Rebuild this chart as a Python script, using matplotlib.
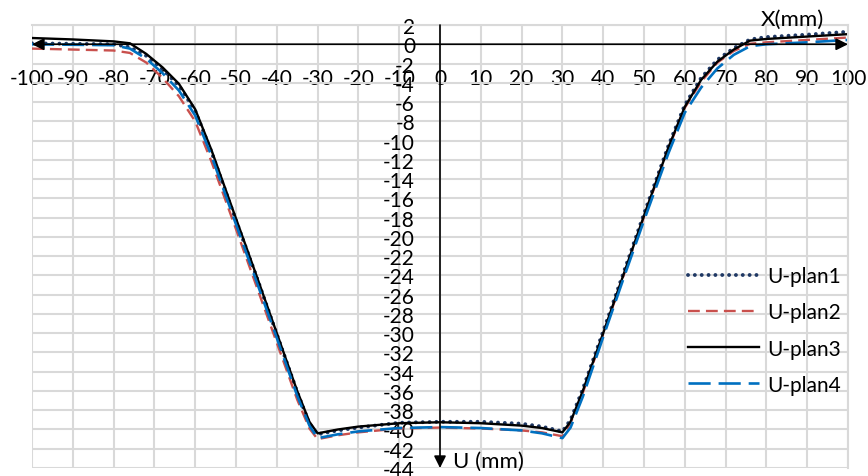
import matplotlib
matplotlib.use("Agg")
import matplotlib.pyplot as plt

plt.rcParams['font.family'] = ['Lato', 'DejaVu Sans']

# displacement along X (mm)
x_mm = [-100, -90, -80, -76, -72, -68, -64, -60, -56, -50, -45, -40, -35, -32, -30,
        -25, -20, -10, 0, 10, 20, 25, 30, 32, 35, 40, 45, 50, 56, 60, 64, 68, 72,
        76, 80, 90, 100]

u_plan1 = [0.1, 0.05, 0.0, -0.3, -1.2, -2.6, -4.3, -6.9, -11.2, -18.3, -24.1, -30.1,
           -36.1, -39.4, -40.5, -40.1, -39.8, -39.3, -39.2, -39.2, -39.4, -39.7, -40.2,
           -39.0, -35.8, -29.8, -23.7, -17.6, -10.5, -6.3, -3.5, -1.6, -0.4, 0.5, 0.75,
           1.0, 1.3]
u_plan2 = [-0.45, -0.55, -0.65, -0.9, -1.9, -3.5, -5.4, -8.0, -12.2, -19.2, -25.1, -31.0,
           -36.9, -39.9, -41.0, -40.6, -40.3, -39.9, -39.8, -39.9, -40.1, -40.3, -40.7,
           -39.3, -36.2, -30.1, -24.0, -17.9, -10.8, -6.6, -3.9, -1.9, -0.7, 0.05, 0.2,
           0.45, 0.7]
u_plan3 = [0.65, 0.5, 0.3, 0.1, -1.0, -2.4, -4.1, -6.75, -11.0, -18.1, -24.0, -30.0,
           -36.0, -39.2, -40.4, -40.0, -39.7, -39.35, -39.25, -39.35, -39.6, -39.85, -40.3,
           -39.2, -36.0, -30.0, -23.9, -17.8, -10.7, -6.5, -3.7, -1.8, -0.55, 0.38, 0.55,
           0.8, 1.05]
u_plan4 = [0.0, -0.05, -0.1, -0.45, -1.5, -3.0, -4.8, -7.4, -11.6, -18.7, -24.6, -30.5,
           -36.5, -39.6, -40.9, -40.5, -40.2, -39.85, -39.75, -39.85, -40.1, -40.4, -40.9,
           -39.8, -36.6, -30.4, -24.3, -18.3, -11.3, -7.1, -4.5, -2.5, -1.1, -0.2, 0.0,
           0.2, 0.45]

x_ticks = list(range(-100, 101, 10))
y_ticks = list(range(-44, 3, 2))

fig = plt.figure(figsize=(8.68, 4.77), dpi=100)
ax = fig.add_axes([32 / 868, 1 - 469 / 477, 816 / 868, 443 / 477])

# series (drawn in Excel order, plan4 on top)
ax.plot(x_mm, u_plan1, color='#1f3864', lw=2.8, linestyle=(0, (0.01, 1.75)),
        dash_capstyle='round', label='U-plan1')
ax.plot(x_mm, u_plan2, color='#c9504d', lw=1.7, linestyle=(0, (5.0, 2.6)), label='U-plan2')
ax.plot(x_mm, u_plan3, color='black', lw=1.7, label='U-plan3')
ax.plot(x_mm, u_plan4, color='#0070c0', lw=1.9, linestyle=(0, (8.4, 3.0)), label='U-plan4')

ax.set_xlim(-100, 100)
ax.set_ylim(-44, 2)
ax.set_xticks(x_ticks)
ax.set_xticklabels([str(v) for v in x_ticks])
ax.set_yticks(y_ticks)
ax.set_yticklabels([str(v) for v in y_ticks])
ax.grid(True, color='#d9d9d9', lw=1.5)
ax.set_axisbelow(True)
for gl in ax.get_xgridlines() + ax.get_ygridlines():
    gl.set_clip_on(False)

# axes crossing at the origin
ax.spines['bottom'].set_position(('data', 0))
ax.spines['left'].set_position(('data', 0))
for s in ['bottom', 'left']:
    ax.spines[s].set_color('none')
for s in ['top', 'right']:
    ax.spines[s].set_color('#d9d9d9')
    ax.spines[s].set_linewidth(1.5)
ax.tick_params(axis='both', length=0, labelsize=15)
ax.tick_params(axis='x', pad=17)
ax.tick_params(axis='y', pad=18)

ax.annotate('', xy=(-100, 0), xytext=(100, 0),
            arrowprops=dict(arrowstyle='<|-|>', color='black', lw=1.2,
                            mutation_scale=18, shrinkA=0, shrinkB=0))
ax.annotate('', xy=(0, -44), xytext=(0, 2),
            arrowprops=dict(arrowstyle='-|>', color='black', lw=1.2,
                            mutation_scale=18, shrinkA=0, shrinkB=0))

ax.text(86.3, 2.6, 'X(mm)', fontsize=16, ha='center', va='center', clip_on=False)
ax.text(3.2, -43.3, 'U (mm)', fontsize=16, ha='left', va='center', clip_on=False)

ax.legend(loc='upper left', bbox_to_anchor=(688 / 868, 1 - 267 / 477),
          bbox_transform=fig.transFigure, frameon=False, fontsize=15,
          handlelength=3.4, handletextpad=0.4, labelspacing=0.78, borderpad=0,
          borderaxespad=0)

fig.savefig('out.png', dpi=100)
